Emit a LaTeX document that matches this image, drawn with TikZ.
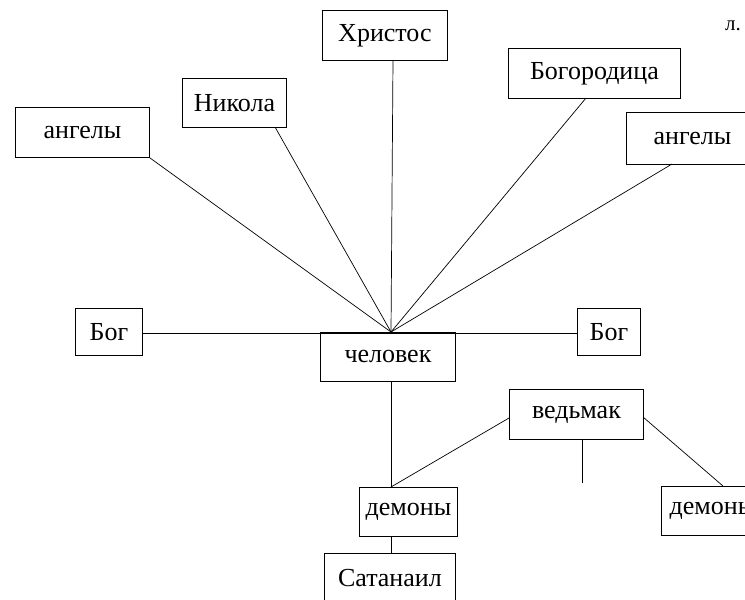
\documentclass[tikz,border=0pt]{standalone}
\usepackage{fontspec}
\setmainfont{Liberation Serif}
\usetikzlibrary{calc}
\tikzset{
  box/.style={draw, line width=0.9pt, anchor=north west, inner sep=0pt,
    font=\fontsize{26}{30}\selectfont},
  link/.style={line width=0.7pt}
}
\begin{document}
\begin{tikzpicture}[x=1pt,y=-1pt]
\useasboundingbox (0,0) rectangle (745,600);
\clip (0,0) rectangle (745,600);
% nodes
\node[box, minimum width=125, minimum height=50] (hr) at (322,10) {Христос};
\node[box, minimum width=104, minimum height=49] (nik) at (182,78) {Никола};
\node[box, minimum width=134, minimum height=50] (angL) at (15,107) {ангелы};
\node[box, minimum width=172, minimum height=50] (bog) at (508,48) {Богородица};
\node[box, minimum width=132, minimum height=52] (angR) at (626,112) {ангелы};
\node[box, minimum width=67, minimum height=47] (bogL) at (75,308) {Бог};
\node[box, minimum width=63, minimum height=47] (bogR) at (577,308) {Бог};
\node[box, minimum width=135, minimum height=49] (chel) at (320,332) {человек};
\node[box, minimum width=134, minimum height=50] (ved) at (509,389) {ведьмак};
\node[box, minimum width=98, minimum height=49] (demC) at (359,487) {демоны};
\node[box, minimum width=102, minimum height=49] (demR) at (661,486) {демоны};
\node[box, minimum width=131, minimum height=50] (sat) at (324,553) {Сатанаил};
\node[font=\fontsize{21}{24}\selectfont, inner sep=0pt] (note) at (733,26) {л.};
% connection points
\coordinate (hub) at (391,332);
\coordinate (nikout) at (275,127);
\coordinate (hrout) at (393,60);
\coordinate (bogout) at (586,98);
\coordinate (angRout) at (672,164);
\coordinate (demtop) at (391,487);
\coordinate (chelbot) at (391,381);
\coordinate (vedL) at (509,418);
\coordinate (vedR) at (643,417);
\coordinate (vedB) at (582,439);
\coordinate (vedfree) at (582,483);
\coordinate (demRtop) at (723,486);
\coordinate (demCbot) at (391,536);
\coordinate (sattop) at (391,553);
% connectors
\draw[link] (angL.south east) -- (hub);
\draw[link] (nikout) -- (hub);
\draw[link] (hrout) -- (hub);
\draw[link] (bogout) -- (hub);
\draw[link] (angRout) -- (hub);
\draw[link] (bogL.east |- 0,333) -- (bogR.west |- 0,333);
\draw[link] (chelbot) -- (demtop);
\draw[link] (vedL) -- (demtop);
\draw[link] (vedB) -- (vedfree);
\draw[link] (vedR) -- (demRtop);
\draw[link] (demCbot) -- (sattop);
\end{tikzpicture}
\end{document}
